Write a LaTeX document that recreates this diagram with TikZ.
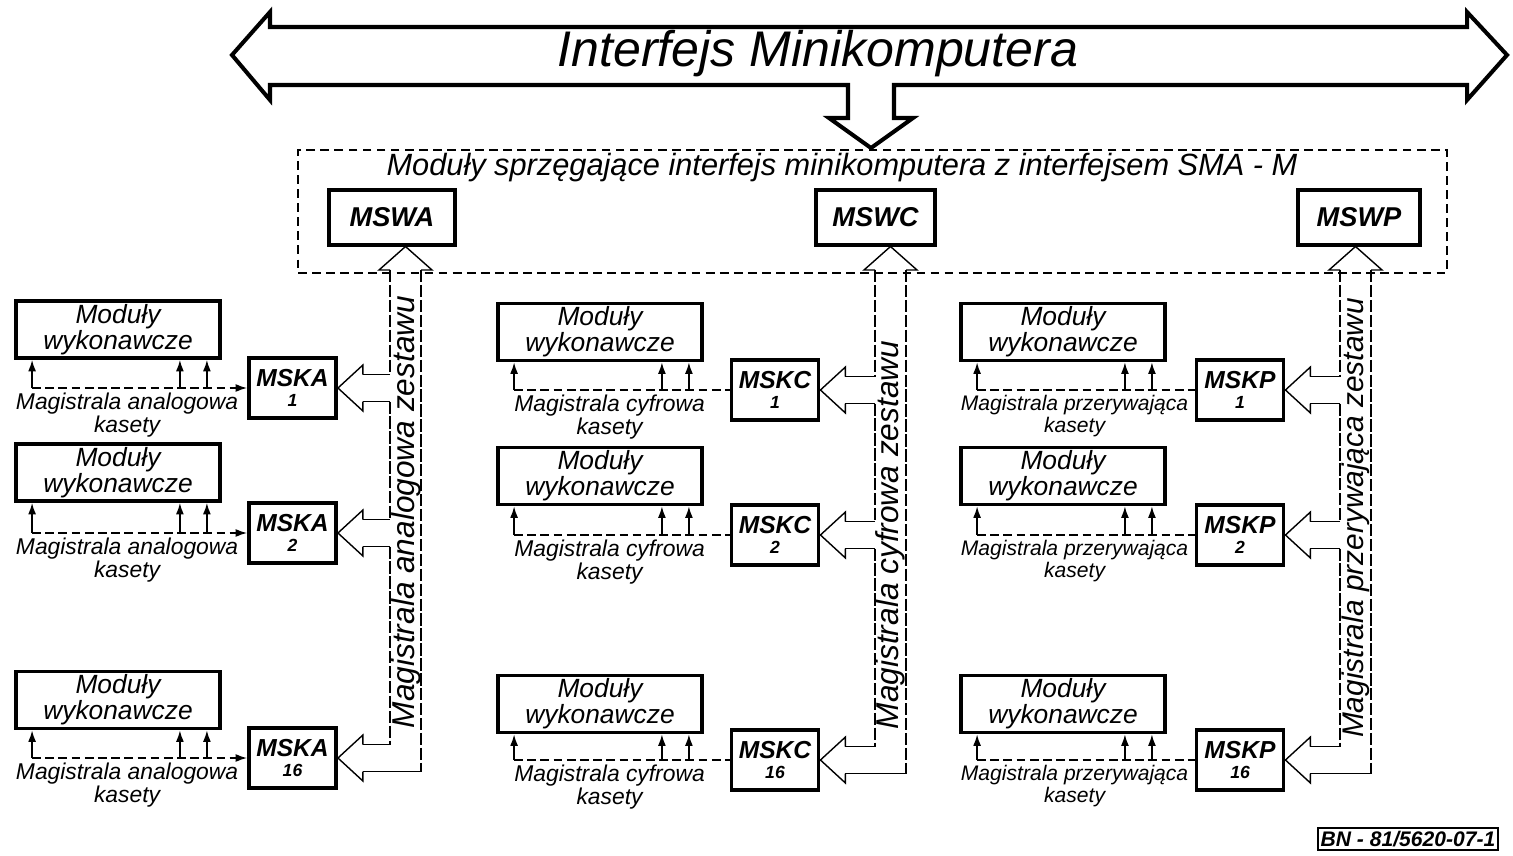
\documentclass[tikz,border=0pt]{standalone}
\usepackage{fontspec}
\setmainfont{Liberation Sans}
\usetikzlibrary{calc,arrows.meta}
\def\hy{270}
\newcommand\grp[7]{%
 \node[mw] (mw#1) at (#2,#3) {Moduły\\wykonawcze};
 \node[msk] (msk#1) at (#4,#5) {#6\\[-3pt]{\fontsize{10}{10}\selectfont #7}};
 \coordinate (#1a) at ($(mw#1.south west)+(18,0)$);
 \coordinate (#1b) at ($(mw#1.south east)+(-42,0)$);
 \coordinate (#1c) at ($(mw#1.south east)+(-15,0)$);
 \draw[kas,\kasend] (#1a |- msk#1.west) -- (msk#1.west);
 \draw[upar] (#1a |- msk#1.west) -- (#1a);
 \draw[upar] (#1b |- msk#1.west) -- (#1b);
 \draw[upar] (#1c |- msk#1.west) -- (#1c);
 \node[lbl,anchor=north] (lab#1) at ($(msk#1.west)+(-120,5)$) {\kaslabel};
 \draw[thinl,line join=miter] ($(msk#1.east)+(25,-13.5)$) -- ++(0,-9.5) -- (msk#1.east) -- ++(25,23) -- ++(0,-9.5);
 \coordinate (msk#1-u) at ($(msk#1.east)+(25,-13.5)$);
 \coordinate (msk#1-d) at ($(msk#1.east)+(25,13.5)$);
}
\newcommand\bus[3]{%
 \coordinate (#1Lx) at (#2,0); \coordinate (#1Rx) at (#3,0);
 \draw[thinl,line join=miter] (#2,\hy) -- (#2-11,\hy) -- ({(#2+#3)/2},246.5) -- (#3+11,\hy) -- (#3,\hy);
 \draw[busl] (#2,\hy) -- (msk#11-u -| #1Lx);
 \draw[thinl] (msk#11-u -| #1Lx) -- (msk#11-u);
 \draw[thinl] (msk#11-d) -- (msk#11-d -| #1Lx);
 \draw[busl] (msk#11-d -| #1Lx) -- (msk#12-u -| #1Lx);
 \draw[thinl] (msk#12-u -| #1Lx) -- (msk#12-u);
 \draw[thinl] (msk#12-d) -- (msk#12-d -| #1Lx);
 \draw[busl] (msk#12-d -| #1Lx) -- (msk#116-u -| #1Lx);
 \draw[thinl] (msk#116-u -| #1Lx) -- (msk#116-u);
 \draw[busl] (#3,\hy) -- (msk#116-d -| #1Rx);
 \draw[thinl] (msk#116-d -| #1Rx) -- (msk#116-d);
}
\begin{document}
\begin{tikzpicture}[x=0.02cm,y=-0.02cm,
  thickbox/.style={draw,line width=2.2pt,inner sep=0pt},
  mw/.style={thickbox,minimum width=4.08cm,minimum height=1.14cm,align=center,font=\fontsize{15}{12.5}\selectfont\itshape},
  msk/.style={thickbox,minimum width=1.74cm,minimum height=1.2cm,align=center,font=\fontsize{14}{14}\selectfont\bfseries\itshape},
  msw/.style={thickbox,minimum height=1.1cm,font=\fontsize{15.5}{15.5}\selectfont\bfseries\itshape},
  thinl/.style={line width=0.8pt},
  busl/.style={line width=0.8pt,dash pattern=on 7pt off 1.5pt},
  kas/.style={dash pattern=on 5pt off 2.5pt,line width=0.8pt},
  lbl/.style={align=center,font=\kasfont,inner sep=0pt},
  vlbl/.style={rotate=90,font=\fontsize{18}{18}\selectfont\itshape,inner sep=0pt},
  upar/.style={line width=0.8pt,-{Latex[length=6.5pt,width=4.5pt]}}
]
\useasboundingbox (0,0) rectangle (1513,855);
% top bus arrow
\draw[line width=2.3pt,line join=miter] (232,55) -- (270,12) -- (270,27) -- (1467,27) -- (1467,12) -- (1507,55) -- (1467,100) -- (1467,85) -- (894,85) -- (894,118) -- (913,118) -- (871,148) -- (829,118) -- (848,118) -- (848,85) -- (270,85) -- (270,100) -- cycle;
\node[font=\fontsize{28.5}{28.5}\selectfont\itshape] (title) at (818,54) {Interfejs Minikomputera};
% dashed frame
\node[draw,line width=0.9pt,dash pattern=on 5pt off 3pt,minimum width=22.98cm,minimum height=2.46cm,inner sep=0pt] (frame) at (872.5,211.5) {};
\node[font=\fontsize{17.5}{17.5}\selectfont\itshape] (sub) at (842,168) {Moduły sprzęgające interfejs minikomputera z interfejsem SMA - M};
\node[msw,minimum width=2.52cm] (mswA) at (392,217.5) {MSWA};
\node[msw,minimum width=2.38cm] (mswC) at (875.5,217.5) {MSWC};
\node[msw,minimum width=2.44cm] (mswP) at (1359,217.5) {MSWP};
% column A
\def\kasend{-{Latex[length=6.5pt,width=4.5pt]}}
\def\kaslabel{Magistrala analogowa\\kasety}
\def\kasfont{\fontsize{13}{11}\selectfont\itshape}
\grp{A1}{118}{329.5}{292.5}{388}{MSKA}{1}
\grp{A2}{118}{472.5}{292.5}{533}{MSKA}{2}
\grp{A16}{118}{700}{292.5}{758}{MSKA}{16}
\bus{A}{390}{421}
\node[vlbl] (busA) at (406,512) {Magistrala analogowa zestawu};
% column C
\def\kasend{}
\def\kaslabel{Magistrala cyfrowa\\kasety}
\grp{C1}{600}{332}{775}{390}{MSKC}{1}
\grp{C2}{600}{476}{775}{535}{MSKC}{2}
\grp{C16}{600}{704}{775}{760}{MSKC}{16}
\bus{C}{875}{906}
\node[vlbl] (busC) at (890.5,535) {Magistrala cyfrowa zestawu};
% column P
\def\kaslabel{Magistrala przerywająca\\kasety}
\def\kasfont{\fontsize{12}{11}\selectfont\itshape}
\grp{P1}{1063}{332}{1240}{390}{MSKP}{1}
\grp{P2}{1063}{476}{1240}{535}{MSKP}{2}
\grp{P16}{1063}{704}{1240}{760}{MSKP}{16}
\bus{P}{1340}{1371}
\node[vlbl,font=\fontsize{17}{17}\selectfont\itshape] (busP) at (1355.5,518) {Magistrala przerywająca zestawu};
% drawing number
\node[draw,line width=1.3pt,inner sep=1.5pt,minimum height=0.44cm,font=\fontsize{12}{12}\selectfont\bfseries\itshape] (bn) at (1408,839) {BN - 81/5620-07-1};
\end{tikzpicture}
\end{document}
